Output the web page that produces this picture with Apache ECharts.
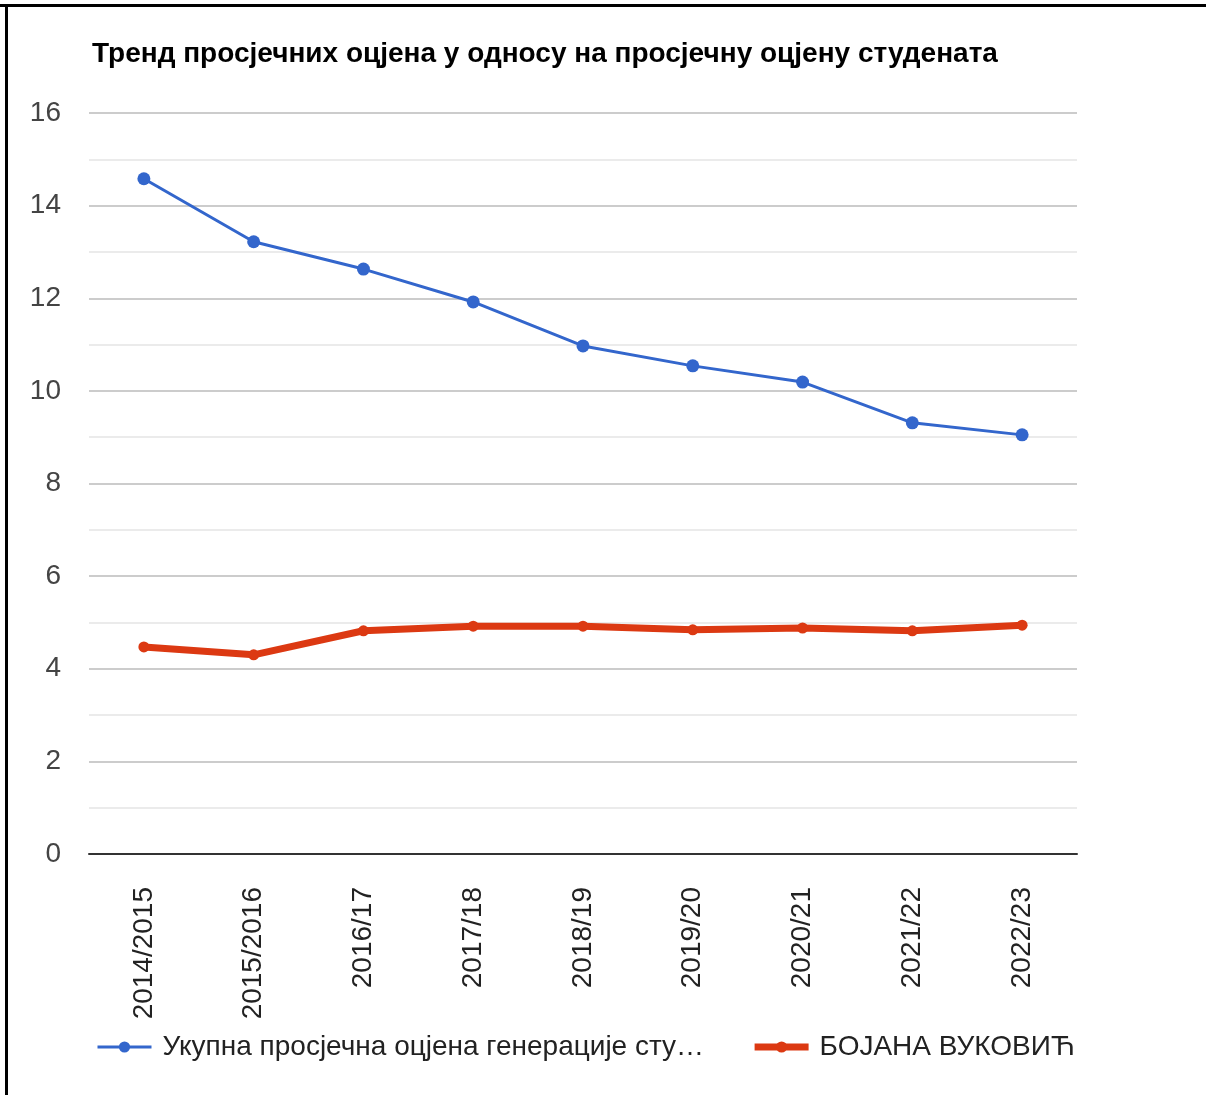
<!DOCTYPE html>
<html>
<head>
<meta charset="utf-8">
<script src="https://cdn.jsdelivr.net/npm/echarts@6/dist/echarts.min.js"></script>
<style>
  html, body { margin: 0; padding: 0; background: #fff; }
  #wrap { position: relative; width: 1206px; height: 1095px; overflow: hidden; }
  #chart { position: absolute; left: 0; top: 0; width: 1206px; height: 1095px; }
  #bt { position: absolute; left: 0; top: 4px; width: 1206px; height: 3px; background: #000; }
  #bl { position: absolute; left: 5px; top: 4px; width: 3px; height: 1091px; background: #000; }
</style>
</head>
<body>
<div id="wrap">
  <div id="chart"></div>
  <div id="bt"></div>
  <div id="bl"></div>
</div>
<script>
const titleText = "Тренд просјечних оцјена у односу на просјечну оцјену студената";
const categories = ["2014/2015", "2015/2016", "2016/17", "2017/18", "2018/19", "2019/20", "2020/21", "2021/22", "2022/23"];
const seriesNames = ["Укупна просјечна оцјена генерације сту…", "БОЈАНА ВУКОВИЋ"];
const generationAvg = [14.58, 13.22, 12.63, 11.92, 10.97, 10.54, 10.19, 9.31, 9.05];
const studentAvg = [4.47, 4.30, 4.82, 4.92, 4.92, 4.84, 4.88, 4.82, 4.94];
const yTicks = { min: 0, max: 16, interval: 2 };

const chart = echarts.init(document.getElementById('chart'), null, { renderer: 'canvas' });
const font = 'Arial, "Liberation Sans", sans-serif';
chart.setOption({
  animation: false,
  backgroundColor: '#fff',
  title: {
    text: titleText,
    left: 87, top: 35,
    textStyle: { fontFamily: font, fontSize: 28, fontWeight: 'bold', color: '#000' }
  },
  grid: { left: 89, right: 129, top: 113, bottom: 241, containLabel: false },
  legend: {
    left: 91, top: 1028,
    itemWidth: 54, itemHeight: 14, itemGap: 47,
    textStyle: { fontFamily: font, fontSize: 28, color: '#222', padding: [0, 0, 0, 6] },
    data: [
      { name: seriesNames[0], lineStyle: { width: 3, color: '#3366cc' }, itemStyle: { color: '#3366cc' } },
      { name: seriesNames[1], lineStyle: { width: 7, color: '#dc3912' }, itemStyle: { color: '#dc3912' } }
    ]
  },
  xAxis: {
    type: 'category',
    data: categories,
    boundaryGap: true,
    axisLine: { show: true, lineStyle: { color: '#333', width: 2 } },
    axisTick: { show: false },
    axisLabel: { rotate: 90, margin: 33, fontFamily: font, fontSize: 28, color: '#222' }
  },
  yAxis: {
    type: 'value',
    min: yTicks.min, max: yTicks.max, interval: yTicks.interval,
    axisLine: { show: false },
    axisTick: { show: false },
    axisLabel: { margin: 28, fontFamily: font, fontSize: 28, color: '#444' },
    splitLine: { lineStyle: { color: '#cccccc', width: 2 } },
    minorTick: { show: false, splitNumber: 2 },
    minorSplitLine: { show: true, lineStyle: { color: '#ebebeb', width: 2 } }
  },
  series: [
    {
      name: seriesNames[0], type: 'line', data: generationAvg,
      symbol: 'circle', symbolSize: 13,
      color: '#3366cc',
      lineStyle: { color: '#3366cc', width: 3 },
      itemStyle: { color: '#3366cc' }
    },
    {
      name: seriesNames[1], type: 'line', data: studentAvg,
      symbol: 'circle', symbolSize: 11,
      color: '#dc3912',
      lineStyle: { color: '#dc3912', width: 7 },
      itemStyle: { color: '#dc3912' }
    }
  ]
});
</script>
</body>
</html>
